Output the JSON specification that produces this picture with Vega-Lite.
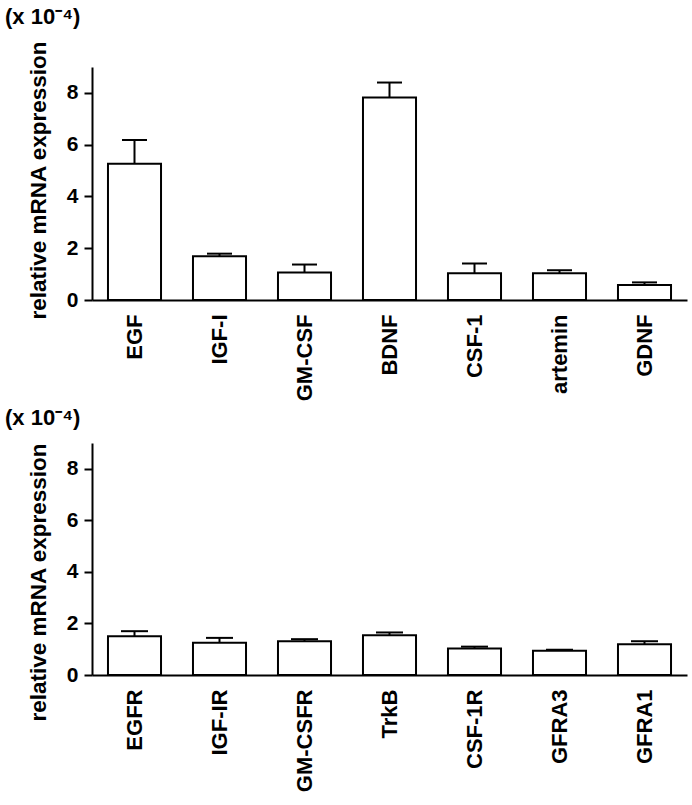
{
  "$schema": "https://vega.github.io/schema/vega-lite/v6.json",
  "padding": {"left": 5, "top": 5, "right": 5, "bottom": 5},
  "background": "white",
  "datasets": {
    "ligands": [
      {"gene": "EGF", "value": 5.26, "upper": 6.18},
      {"gene": "IGF-I", "value": 1.69, "upper": 1.79},
      {"gene": "GM-CSF", "value": 1.06, "upper": 1.37},
      {"gene": "BDNF", "value": 7.82, "upper": 8.4},
      {"gene": "CSF-1", "value": 1.03, "upper": 1.41},
      {"gene": "artemin", "value": 1.03, "upper": 1.15},
      {"gene": "GDNF", "value": 0.58, "upper": 0.68}
    ],
    "receptors": [
      {"gene": "EGFR", "value": 1.5, "upper": 1.7},
      {"gene": "IGF-IR", "value": 1.25, "upper": 1.44},
      {"gene": "GM-CSFR", "value": 1.31, "upper": 1.39},
      {"gene": "TrkB", "value": 1.54, "upper": 1.65},
      {"gene": "CSF-1R", "value": 1.03, "upper": 1.1},
      {"gene": "GFRA3", "value": 0.94, "upper": 0.98},
      {"gene": "GFRA1", "value": 1.19, "upper": 1.31}
    ]
  },
  "config": {
    "font": "Liberation Sans",
    "view": {"stroke": null},
    "axis": {
      "labelFont": "Liberation Sans",
      "labelFontWeight": "bold",
      "labelColor": "black",
      "titleFont": "Liberation Sans",
      "titleFontWeight": "bold",
      "titleColor": "black",
      "domainColor": "black",
      "domainWidth": 2,
      "tickColor": "black",
      "tickWidth": 2,
      "grid": false
    },
    "title": {
      "font": "Liberation Sans",
      "fontWeight": "bold",
      "fontSize": 22,
      "color": "black",
      "anchor": "start",
      "frame": "group"
    }
  },
  "bounds": "flush",
  "spacing": 143,
  "resolve": {"scale": {"x": "independent", "y": "independent"}},
  "vconcat": [
    {
      "width": 595,
      "height": 233,
      "data": {"name": "ligands"},
      "title": {"text": "(x 10⁻⁴)", "dx": -87, "offset": -10, "baseline": "bottom"},
      "encoding": {
        "x": {
          "field": "gene", "type": "nominal", "sort": null,
          "scale": {"paddingInner": 0.376, "paddingOuter": 0.188},
          "axis": {"title": null, "labelAngle": -90, "ticks": false, "labelPadding": 14, "labelFontSize": 22}
        }
      },
      "layer": [
        {
          "mark": {"type": "bar", "fill": "white", "stroke": "black", "strokeWidth": 2},
          "encoding": {
            "y": {
              "field": "value", "type": "quantitative",
              "scale": {"domain": [0, 9], "nice": false},
              "axis": {
                "title": "relative mRNA expression", "titleFontSize": 22.5, "titlePadding": 16, "titleY": 113,
                "values": [0, 1, 2, 3, 4, 5, 6, 7, 8],
                "labelExpr": "datum.value % 2 === 0 ? datum.label : ''",
                "labelFontSize": 21, "tickSize": 8, "labelPadding": 6
              }
            }
          }
        },
        {
          "mark": {"type": "rule", "strokeWidth": 2, "color": "black"},
          "encoding": {"y": {"field": "value", "type": "quantitative"}, "y2": {"field": "upper"}}
        },
        {
          "mark": {"type": "tick", "size": 25, "thickness": 2, "color": "black", "opacity": 1, "orient": "horizontal"},
          "encoding": {"y": {"field": "upper", "type": "quantitative"}}
        }
      ]
    },
    {
      "width": 595,
      "height": 232,
      "data": {"name": "receptors"},
      "title": {"text": "(x 10⁻⁴)", "dx": -87, "offset": -9, "baseline": "bottom"},
      "encoding": {
        "x": {
          "field": "gene", "type": "nominal", "sort": null,
          "scale": {"paddingInner": 0.376, "paddingOuter": 0.188},
          "axis": {"title": null, "labelAngle": -90, "ticks": false, "labelPadding": 14, "labelFontSize": 22}
        }
      },
      "layer": [
        {
          "mark": {"type": "bar", "fill": "white", "stroke": "black", "strokeWidth": 2},
          "encoding": {
            "y": {
              "field": "value", "type": "quantitative",
              "scale": {"domain": [0, 9], "nice": false},
              "axis": {
                "title": "relative mRNA expression", "titleFontSize": 22.5, "titlePadding": 16, "titleY": 139,
                "values": [0, 1, 2, 3, 4, 5, 6, 7, 8],
                "labelExpr": "datum.value % 2 === 0 ? datum.label : ''",
                "labelFontSize": 21, "tickSize": 8, "labelPadding": 6
              }
            }
          }
        },
        {
          "mark": {"type": "rule", "strokeWidth": 2, "color": "black"},
          "encoding": {"y": {"field": "value", "type": "quantitative"}, "y2": {"field": "upper"}}
        },
        {
          "mark": {"type": "tick", "size": 27, "thickness": 2, "color": "black", "opacity": 1, "orient": "horizontal"},
          "encoding": {"y": {"field": "upper", "type": "quantitative"}}
        }
      ]
    }
  ]
}
